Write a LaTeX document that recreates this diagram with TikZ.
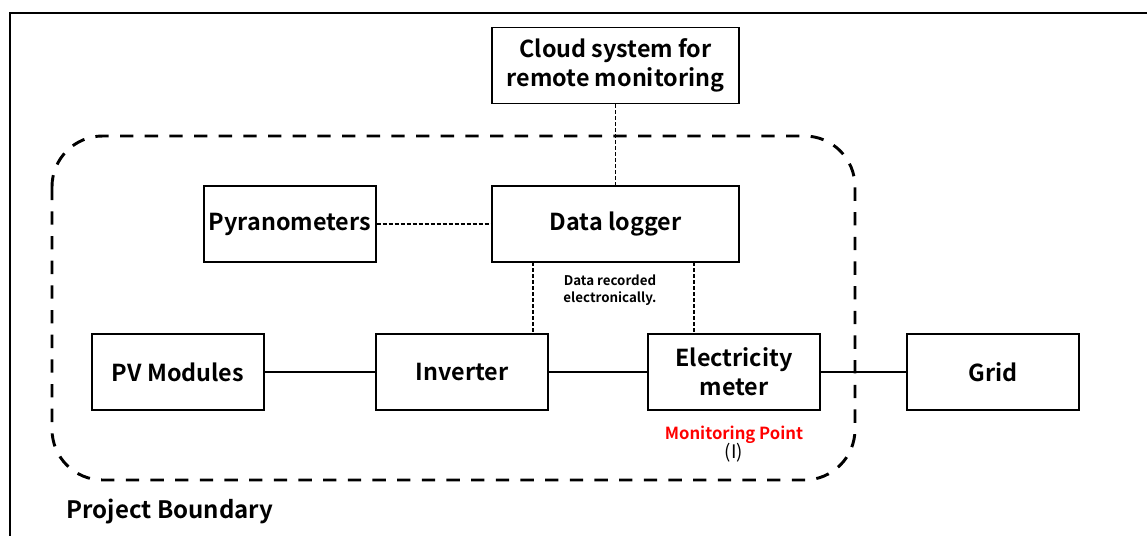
\documentclass[tikz,border=0pt]{standalone}
\usepackage{fontspec}
\setmainfont{Noto Sans CJK JP}[BoldFont={Noto Sans CJK JP Bold}]
\usetikzlibrary{positioning}
\definecolor{mpred}{RGB}{255,0,0}
\tikzset{
  px/.style={x=0.75pt,y=-0.75pt},
  blk/.style={draw,line width=1.1pt,minimum width=129pt,minimum height=57pt,inner sep=0pt,align=center,font=\fontsize{17.5}{22}\selectfont\bfseries},
  wide/.style={blk,minimum width=185pt},
  sig/.style={line width=0.8pt,dash pattern=on 3pt off 1.5pt},
  pow/.style={line width=1.1pt},
  bound/.style={line width=2.2pt,dash pattern=on 10pt off 8.5pt,rounded corners=38pt},
}
\begin{document}
\begin{tikzpicture}[px]
\useasboundingbox (0,0) rectangle (1147,536);
\draw[line width=1.6pt] (1147,13) -- (10,13) -- (10,536);
\draw[bound] (52,136) rectangle (855,480);
\node[wide] (cloud) at (615.5,65.5) {Cloud system for\\remote monitoring};
\node[blk] (pyr) at (290,224) {Pyranometers};
\node[wide] (log) at (615.5,224) {Data logger};
\node[blk] (pv) at (178,372) {PV Modules};
\node[blk] (inv) at (462,372) {Inverter};
\node[blk] (met) at (734,372) {Electricity\\meter};
\node[blk] (grid) at (993,372) {Grid};
\coordinate (l1) at (533,262);
\coordinate (l2) at (694,262);
\draw[sig] (cloud) -- (log);
\draw[sig] (pyr) -- (log);
\draw[sig] (l1) -- (l1 |- inv.north);
\draw[sig] (l2) -- (l2 |- met.north);
\draw[pow] (pv) -- (inv);
\draw[pow] (inv) -- (met);
\draw[pow] (met) -- (grid);
\node[font=\fontsize{10}{13}\selectfont\bfseries,align=center] (note) at (610,290) {Data recorded\\electronically.};
\node[font=\fontsize{12.5}{14}\selectfont\bfseries,text=mpred] (mp) at (734,435) {Monitoring Point};
\node[font=\fontsize{14}{16}\selectfont,inner sep=0pt] (mi) at (734,453) {(I)};
\node[font=\fontsize{18}{20}\selectfont\bfseries,anchor=west] (pb) at (62,512) {Project Boundary};
\end{tikzpicture}
\end{document}
